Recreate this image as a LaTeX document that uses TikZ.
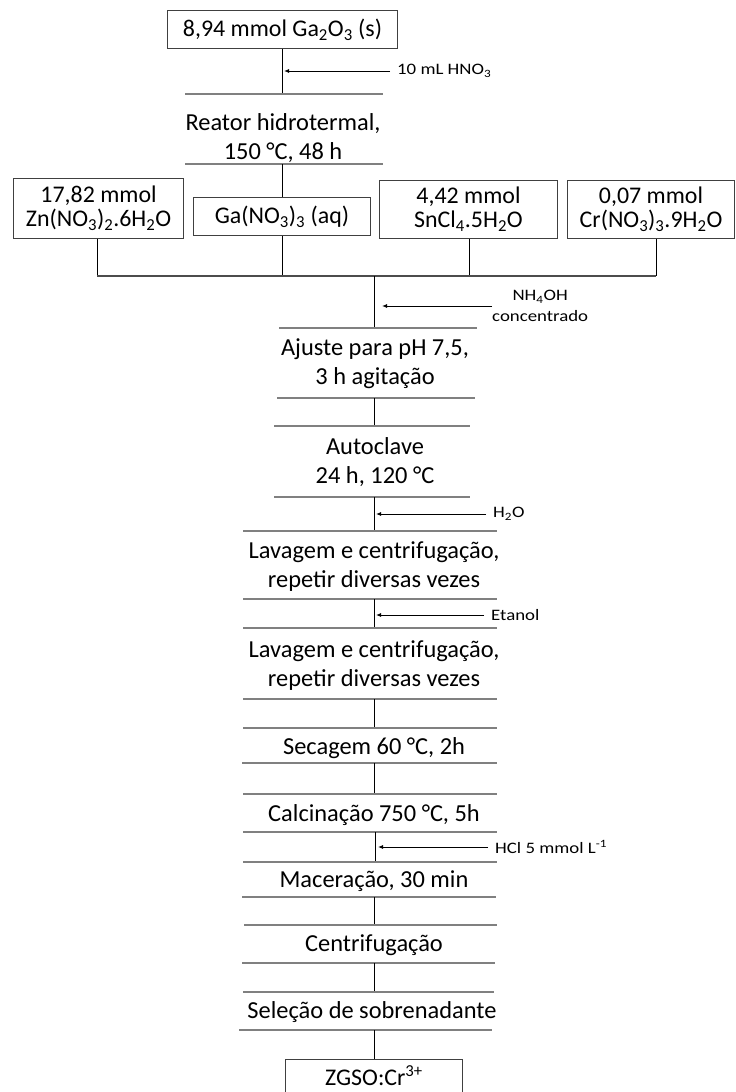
\documentclass[tikz,border=0pt]{standalone}
\usepackage{fontspec}
\setmainfont{Carlito}
\newfontfamily\lblfont[FakeStretch=1.18]{Carlito}
\usetikzlibrary{arrows.meta}
\tikzset{
  box/.style={draw=black!75,line width=1bp,align=center,inner sep=0pt,
    font=\fontsize{24}{24}\selectfont},
  stage/.style={align=center,inner sep=0pt,font=\fontsize{24.5}{29}\selectfont},
  sep/.style={draw=black!50,line width=1.4bp},
  link/.style={draw=black,line width=1bp},
  feed/.style={-{Latex[length=5bp,width=4bp]},line width=0.9bp},
  lbl/.style={anchor=west,align=left,inner xsep=7bp,inner ysep=0pt,
    font=\lblfont\fontsize{16}{21}\selectfont}
}
\begin{document}
\begin{tikzpicture}[x=1bp,y=-1bp]
\useasboundingbox (0,0) rectangle (736,1092);
% starting material
\node[box,minimum width=230,minimum height=39] (gao) at (282.5,29.5) {8,94 mmol Ga\textsubscript{2}O\textsubscript{3} (s)};
\coordinate (r1) at (282.5,94);
\coordinate (a1) at (284,71);
\node[lbl] (hno) at (390,71) {10 mL HNO\textsubscript{3}};
\draw[link] (gao.south) -- (r1);
\draw[feed] (hno.west) -- (a1);
\draw[sep] (185,94) -- (383,94);
\node[stage] (reator) at (283,138) {Reator hidrotermal,\\150 °C, 48 h};
\draw[sep] (185,164) -- (383,164);
\coordinate (r2) at (282,164);
% precursors
\node[box,minimum width=171,minimum height=61] (zn) at (98.5,208.5) {17,82 mmol\\Zn(NO\textsubscript{3})\textsubscript{2}.6H\textsubscript{2}O};
\node[box,minimum width=178,minimum height=39] (ga) at (282,216.5) {Ga(NO\textsubscript{3})\textsubscript{3} (aq)};
\node[box,minimum width=179,minimum height=59] (sn) at (468.5,209.5) {4,42 mmol\\SnCl\textsubscript{4}.5H\textsubscript{2}O};
\node[box,minimum width=168,minimum height=59] (cr) at (651,209.5) {0,07 mmol\\Cr(NO\textsubscript{3})\textsubscript{3}.9H\textsubscript{2}O};
\draw[link] (r2) -- (ga.north);
\coordinate (j1) at (97,276);
\coordinate (j2) at (282,276);
\coordinate (j3) at (469,276);
\coordinate (j4) at (656,276);
\coordinate (j5) at (374,276);
\draw[link] (zn.south -| j1) -- (j1);
\draw[link] (ga.south) -- (j2);
\draw[link] (sn.south -| j3) -- (j3);
\draw[link] (cr.south -| j4) -- (j4);
\draw[draw=black!70,line width=1.2bp] (j1) -- (j4);
% main line
\coordinate (a2) at (382,306);
\node[lbl,align=center,inner xsep=0pt] (nh) at (492,306) {NH\textsubscript{4}OH\\concentrado};
\draw[feed] (nh.west) -- (a2);
\coordinate (r3) at (374,328);
\draw[link] (j5) -- (r3);
\draw[sep] (279,328) -- (477,328);
\node[stage] (ajuste) at (375,364) {Ajuste para pH 7,5,\\3 h agitação};
\draw[sep] (277,398) -- (475,398);
\coordinate (r4) at (374,398);
\coordinate (r5) at (374,426);
\draw[link] (r4) -- (r5);
\draw[sep] (274,426) -- (470,426);
\node[stage] (auto) at (375,462) {Autoclave\\24 h, 120 °C};
\draw[sep] (274,497) -- (470,497);
\coordinate (r6) at (374,497);
\coordinate (r7) at (374,531);
\coordinate (a3) at (376,514);
\node[lbl] (agua) at (486,514) {H\textsubscript{2}O};
\draw[link] (r6) -- (r7);
\draw[feed] (agua.west) -- (a3);
\draw[sep] (243,531) -- (497,531);
\node[stage] (lav1) at (374,566.5) {Lavagem e centrifugação,\\repetir diversas vezes};
\draw[sep] (243,599) -- (497,599);
\coordinate (r8) at (374,599);
\coordinate (r9) at (374,628);
\coordinate (a4) at (376,615);
\node[lbl] (eta) at (484,615) {Etanol};
\draw[link] (r8) -- (r9);
\draw[feed] (eta.west) -- (a4);
\draw[sep] (243,628) -- (497,628);
\node[stage] (lav2) at (374,665.5) {Lavagem e centrifugação,\\repetir diversas vezes};
\draw[sep] (243,699) -- (497,699);
\coordinate (r10) at (374,699);
\coordinate (r11) at (374,728);
\draw[link] (r10) -- (r11);
\draw[sep] (243,728) -- (497,728);
\node[stage] (seca) at (374,748) {Secagem 60 °C, 2h};
\draw[sep] (242,763) -- (497,763);
\coordinate (r12) at (374,763);
\coordinate (r13) at (374,794);
\draw[link] (r12) -- (r13);
\draw[sep] (243,794) -- (497,794);
\node[stage] (calc) at (374,815) {Calcinação 750 °C, 5h};
\draw[sep] (243,832) -- (497,832);
\coordinate (r14) at (375,832);
\coordinate (r15) at (375,862);
\coordinate (a5) at (378,847);
\node[lbl] (hcl) at (488,847) {HCl 5 mmol L\textsuperscript{-1}};
\draw[link] (r14) -- (r15);
\draw[feed] (hcl.west) -- (a5);
\draw[sep] (243,862) -- (497,862);
\node[stage] (mac) at (374,881) {Maceração, 30 min};
\draw[sep] (242,897) -- (496,897);
\coordinate (r16) at (374,897);
\coordinate (r17) at (374,925);
\draw[link] (r16) -- (r17);
\draw[sep] (244,925) -- (497,925);
\node[stage] (cent) at (374,945) {Centrifugação};
\draw[sep] (242,963) -- (495,963);
\coordinate (r18) at (374,963);
\coordinate (r19) at (374,992);
\draw[link] (r18) -- (r19);
\draw[sep] (243,992) -- (494,992);
\node[stage] (sel) at (372,1012) {Seleção de sobrenadante};
\draw[sep] (239,1030) -- (492,1030);
\coordinate (r20) at (374,1030);
% product
\node[box,minimum width=178,minimum height=34] (zgso) at (374,1076) {ZGSO:Cr\textsuperscript{3+}};
\draw[link] (r20) -- (zgso.north);
\end{tikzpicture}
\end{document}
